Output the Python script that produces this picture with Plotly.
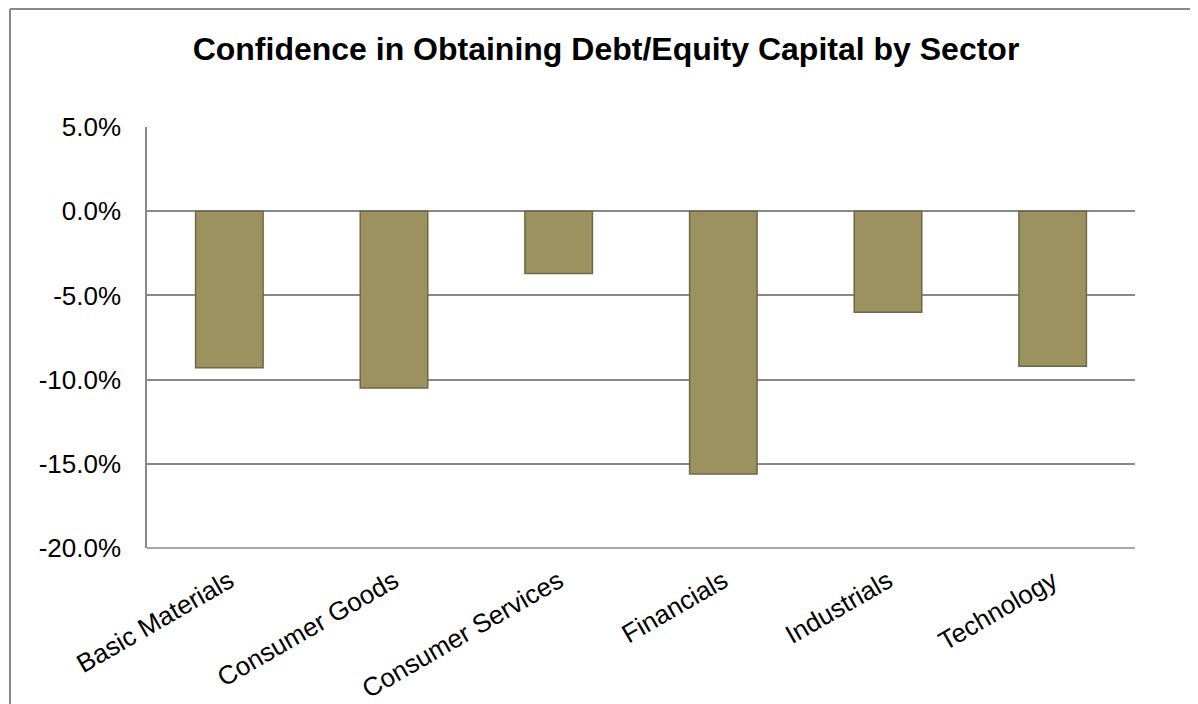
import plotly.graph_objects as go

categories = ["Basic Materials", "Consumer Goods", "Consumer Services",
              "Financials", "Industrials", "Technology"]
values = [-9.3, -10.5, -3.7, -15.6, -6.0, -9.2]
tick_vals = [5, 0, -5, -10, -15, -20]
tick_text = ["5.0%", "0.0%", "-5.0%", "-10.0%", "-15.0%", "-20.0%"]

# page has an 8px body margin; work in page pixels and convert
OFF = 8
W, H = 1198 - OFF, 704 - OFF
L, R, T, B = 147 - OFF, 1135 - OFF, 127 - OFF, 548 - OFF
pw, ph = R - L, B - T

def px_x(x):
    return (x - OFF - L) / pw

def px_y(y):
    return (B - (y - OFF)) / ph

fig = go.Figure()
fig.add_trace(go.Bar(
    x=categories, y=values,
    marker=dict(color="#9B9260", line=dict(color="#6E6844", width=1.5)),
    hoverinfo="x+y",
))

fig.update_layout(
    width=W, height=H,
    margin=dict(l=L, r=W - R, t=T, b=H - B),
    paper_bgcolor="white", plot_bgcolor="white",
    bargap=0.59,
    showlegend=False,
    font=dict(family="Liberation Sans, Arial, sans-serif", color="black"),
    title=dict(
        text="<b>Confidence in Obtaining Debt/Equity Capital by Sector</b>",
        x=px_x(606), xanchor="center", xref="paper",
        y=1 - (49 - OFF) / H, yanchor="middle", yref="container",
        font=dict(size=32, family="Liberation Sans, Arial, sans-serif", color="black"),
    ),
    xaxis=dict(
        tickangle=-30, tickfont=dict(size=26),
        showgrid=False, showline=False, ticks="",
        ticklabelstandoff=12, automargin=False,
    ),
    yaxis=dict(
        range=[-20, 5], tickvals=tick_vals, ticktext=tick_text,
        tickfont=dict(size=26), automargin=False,
        showgrid=True, gridcolor="#888888", gridwidth=1.5,
        showline=True, linecolor="#888888", linewidth=1.5,
        zeroline=False, ticks="", ticklabelstandoff=19,
    ),
    shapes=[
        dict(type="line", xref="paper", yref="paper",
             x0=px_x(10), x1=px_x(10), y0=px_y(9), y1=px_y(720),
             line=dict(color="#888888", width=2)),
        dict(type="line", xref="paper", yref="paper",
             x0=px_x(10), x1=px_x(1210), y0=px_y(9), y1=px_y(9),
             line=dict(color="#888888", width=2)),
        dict(type="line", xref="paper", yref="paper",
             x0=0, x1=1, y0=0, y1=0,
             line=dict(color="#888888", width=1.5)),
    ],
)

fig.write_html("out.html")
